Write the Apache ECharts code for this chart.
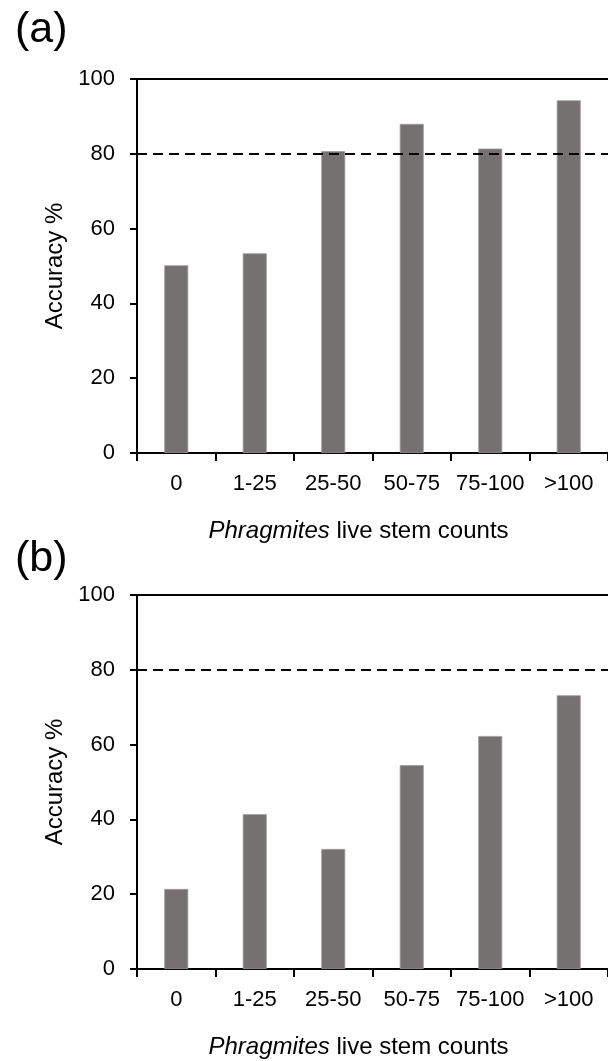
<!DOCTYPE html>
<html>
<head>
<meta charset="utf-8">
<script src="https://cdn.jsdelivr.net/npm/echarts@6/dist/echarts.min.js"></script>
<style>html,body{margin:0;padding:0;background:#fff;}#c{width:608px;height:1061px;}</style>
</head>
<body>
<div id="c"></div>
<script>
var categories = ['0', '1-25', '25-50', '50-75', '75-100', '>100'];
var valuesA = [50.2, 53.4, 80.7, 88.0, 81.4, 94.3];
var valuesB = [21.4, 41.4, 32.1, 54.5, 62.3, 73.2];
var yTicks = [0, 20, 40, 60, 80, 100];
var threshold = 80;
var panelLabels = ['(a)', '(b)'];

var FONT = "'Liberation Sans', Arial, sans-serif";
var chart = echarts.init(document.getElementById('c'), null, {renderer: 'canvas'});

function xAxis(gi) {
  return {
    type: 'category', gridIndex: gi, data: categories,
    axisLine: {lineStyle: {color: '#000', width: 2}},
    axisTick: {show: true, length: 8, lineStyle: {color: '#000', width: 2}},
    axisLabel: {fontSize: 22, color: '#000', fontFamily: FONT, margin: 20, interval: 0},
    name: '{i|Phragmites} live stem counts',
    nameLocation: 'middle', nameGap: 66,
    nameTextStyle: {fontSize: 24, color: '#000', fontFamily: FONT, padding: [0, 28, 0, 0],
      rich: {i: {fontStyle: 'italic', fontSize: 24, color: '#000', fontFamily: FONT}}}
  };
}
function yAxis(gi) {
  return {
    type: 'value', gridIndex: gi, min: yTicks[0], max: yTicks[yTicks.length - 1], interval: 20,
    axisLine: {show: true, lineStyle: {color: '#000', width: 2}},
    axisTick: {show: true, length: 7, lineStyle: {color: '#000', width: 2}},
    splitLine: {show: false},
    axisLabel: {fontSize: 22, color: '#000', fontFamily: FONT, margin: 22},
    name: 'Accuracy %', nameLocation: 'middle', nameRotate: 90, nameGap: 66,
    nameTextStyle: {fontSize: 24, color: '#000', fontFamily: FONT}
  };
}
function series(gi, data) {
  return {
    type: 'bar', xAxisIndex: gi, yAxisIndex: gi, data: data, barWidth: 24,
    itemStyle: {color: '#767171', borderColor: '#a09c9c', borderWidth: 0.8},
    markLine: {
      silent: true, symbol: 'none', label: {show: false}, animation: false,
      data: [
        {yAxis: yTicks[yTicks.length - 1], lineStyle: {color: '#000', width: 1.8, type: 'solid'}},
        {yAxis: threshold, lineStyle: {color: '#000', width: 2, type: [10, 6]}}
      ]
    }
  };
}

chart.setOption({
  animation: false,
  backgroundColor: '#fff',
  grid: [
    {left: 137, top: 79, width: 476, height: 374},
    {left: 137, top: 595, width: 476, height: 374}
  ],
  xAxis: [xAxis(0), xAxis(1)],
  yAxis: [yAxis(0), yAxis(1)],
  series: [series(0, valuesA), series(1, valuesB)],
  graphic: [
    {type: 'text', left: 15, top: 9, style: {text: panelLabels[0], fontSize: 43, fill: '#000', fontFamily: FONT}},
    {type: 'text', left: 15, top: 538, style: {text: panelLabels[1], fontSize: 43, fill: '#000', fontFamily: FONT}}
  ]
});
</script>
</body>
</html>
